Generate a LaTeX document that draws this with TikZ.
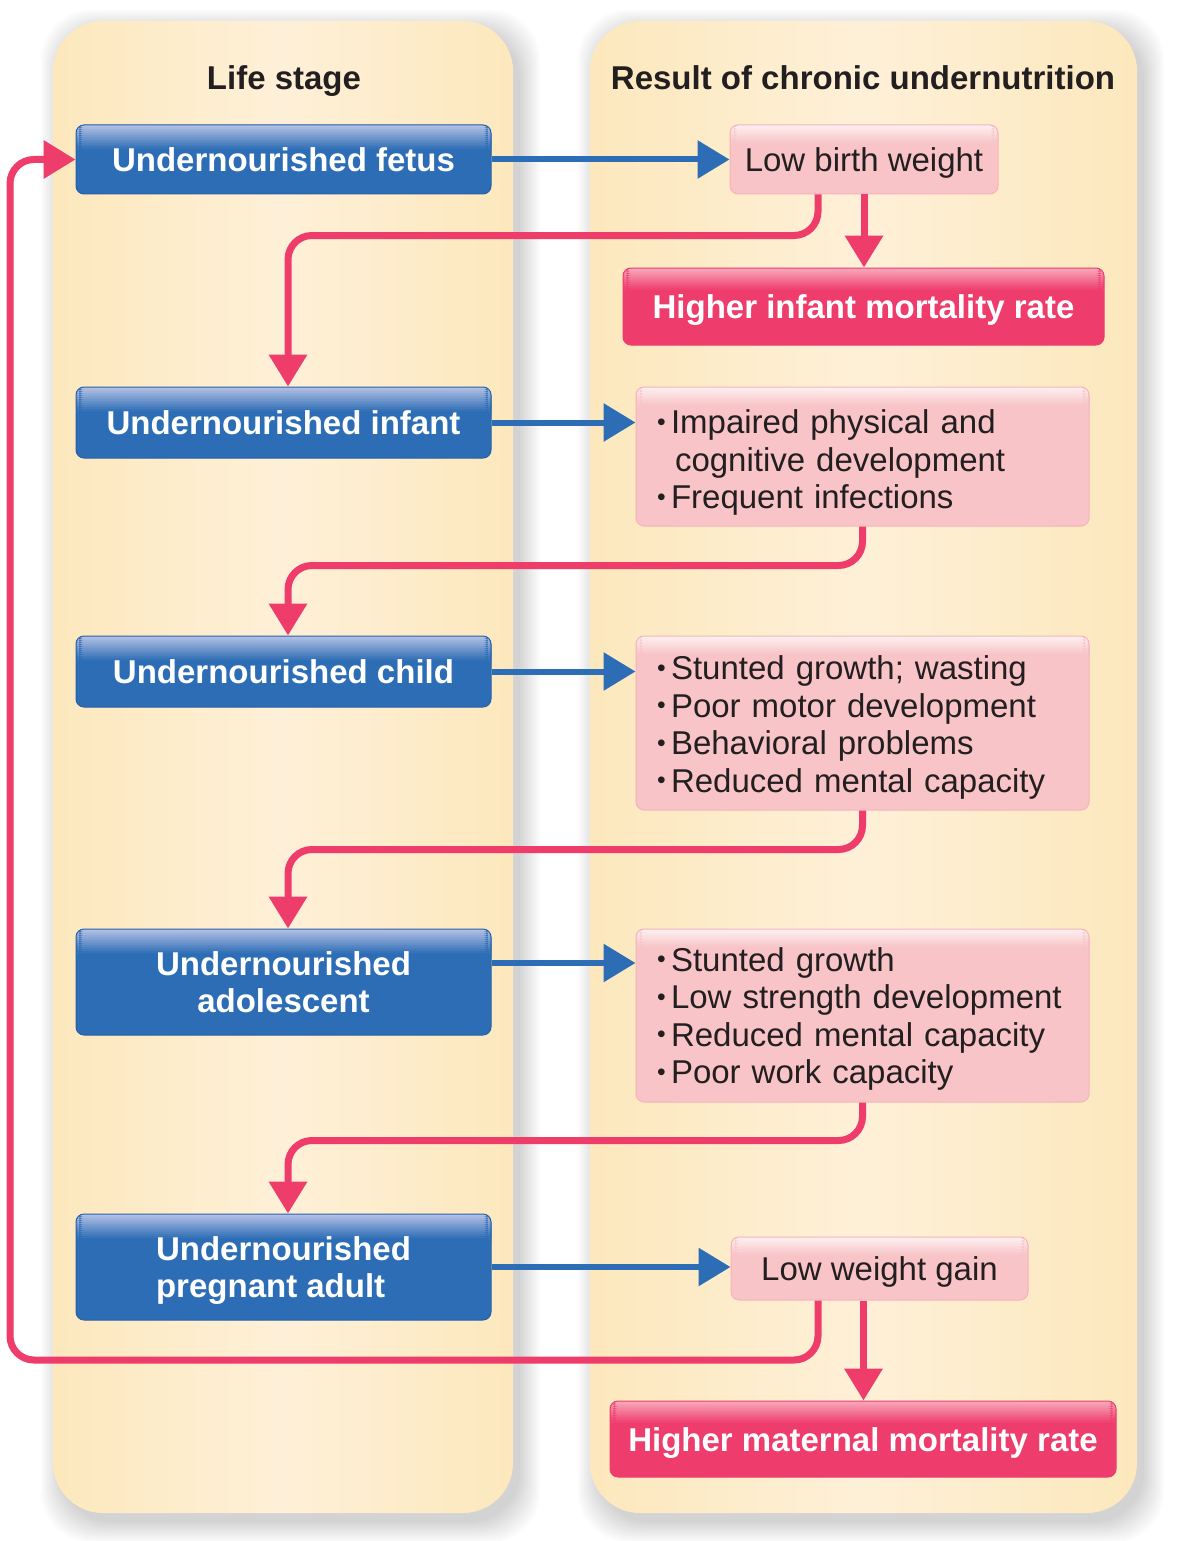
\documentclass[tikz,border=0pt]{standalone}
\usepackage{fontspec}
\usepackage{graphicx}
\setmainfont{Liberation Sans}
\usetikzlibrary{arrows.meta,calc}
\definecolor{panelA}{HTML}{FDE8BD}
\definecolor{panelB}{HTML}{FEF0D8}
\definecolor{bluefill}{HTML}{2C6DB5}
\definecolor{blueedge}{HTML}{2760A8}
\definecolor{bluehi}{HTML}{B3C0E4}
\definecolor{pinkfill}{HTML}{F8C4C7}
\definecolor{pinkedge}{HTML}{F6B3BB}
\definecolor{pinkhi}{HTML}{FDF0F1}
\definecolor{redfill}{HTML}{EE3C6C}
\definecolor{redhi}{HTML}{F8A8BA}
\definecolor{pinkline}{HTML}{EE3D6B}
\definecolor{blueline}{HTML}{2C6DB5}
\definecolor{darktext}{HTML}{231F20}
\newcommand\bul{\makebox[14pt][l]{\raisebox{0.2ex}{\scalebox{0.75}{•}}}}
\begin{document}
\begin{tikzpicture}[x=1pt,y=-1pt,
  panel/.style={rounded corners=50pt, left color=panelA, right color=panelA, middle color=panelB},
  grad/.style n args={3}{path picture={\foreach \k in {0,...,11}{\pgfmathsetmacro\pct{100-\k*8.4}\fill[#1!\pct!#2] ([yshift=-\k*#3]path picture bounding box.north west) rectangle ([yshift=-\k*#3-#3-0.4pt]path picture bounding box.north east);}}},
  bluebox/.style={draw=blueedge, line width=1pt, fill=bluefill, rounded corners=8pt, text=white,
    font=\bfseries\fontsize{33}{37.5}\selectfont, minimum width=415pt, inner sep=0pt, align=center,
    grad={bluehi}{bluefill}{2pt}},
  pinkbox/.style={draw=pinkedge, line width=1pt, fill=pinkfill, rounded corners=8pt, text=darktext,
    font=\fontsize{33}{37.5}\selectfont, inner sep=0pt, grad={pinkhi}{pinkfill}{1.5pt}},
  single/.style={text height=24pt, text depth=0pt},
  listbox/.style={pinkbox, minimum width=453pt, text width=411pt, align=left},
  redbox/.style={draw=redfill, line width=1pt, fill=redfill, rounded corners=8pt, text=white,
    font=\bfseries\fontsize{33}{37.5}\selectfont, inner sep=0pt, grad={redhi}{redfill}{1.8pt}},
  bluearrow/.style={draw=blueline, line width=6pt, -{Triangle[length=32pt,width=37pt]}},
  pinkarrow/.style={draw=pinkline, line width=7pt, rounded corners=24pt, -{Triangle[length=32pt,width=37pt]}},
  titlefont/.style={font=\bfseries\fontsize{33}{37}\selectfont, text=darktext, anchor=base}
]
\useasboundingbox (0,0) rectangle (1176,1541);
\fill[white] (0,0) rectangle (1176,1541);
% shadows
\foreach \i in {0,2,...,20}{
  \fill[black, opacity=0.017, rounded corners=50pt] (53+8-\i,21+9-\i) rectangle (513+7+\i,1513+9+\i);
  \fill[black, opacity=0.017, rounded corners=50pt] (590+8-\i,21+9-\i) rectangle (1137+7+\i,1513+9+\i);
}
% panels
\path[panel] (53,21) rectangle (513,1513);
\path[panel] (590,21) rectangle (1137,1513);

\node[titlefont] (t1) at (284,90) {Life stage};
\node[titlefont] (t2) at (863,90) {Result of chronic undernutrition};

% life stage boxes
\node[bluebox, single, minimum height=69pt] (fetus) at (283.5,159.5) {Undernourished fetus};
\node[bluebox, single, minimum height=71pt] (infant) at (283.5,422.5) {Undernourished infant};
\node[bluebox, single, minimum height=71pt] (child) at (283.5,671.5) {Undernourished child};
\node[bluebox, minimum height=106pt] (adol) at (283.5,982) {Undernourished\\adolescent};
\node[bluebox, minimum height=106pt, align=left, text depth=-4pt] (preg) at (283.5,1267) {Undernourished\\pregnant adult};

% result boxes
\node[pinkbox, single, minimum width=268pt, minimum height=69pt] (lbw) at (864,159.5) {Low birth weight};
\node[redbox, single, minimum width=481pt, minimum height=77pt] (imr) at (863.5,306.5) {Higher infant mortality rate};
\node[listbox, minimum height=139pt, text height=36pt] (res1) at (862.5,456.5) {\bul Impaired physical and\\\hspace*{18pt}cognitive development\\\bul Frequent infections};
\node[listbox, minimum height=174pt, text height=32.5pt] (res2) at (862.5,723) {\bul Stunted growth; wasting\\\bul Poor motor development\\\bul Behavioral problems\\\bul Reduced mental capacity};
\node[listbox, minimum height=173pt, text height=30.5pt] (res3) at (862.5,1015.5) {\bul Stunted growth\\\bul Low strength development\\\bul Reduced mental capacity\\\bul Poor work capacity};
\node[pinkbox, single, minimum width=297pt, minimum height=63pt] (lwg) at (879.5,1268.5) {Low weight gain};
\node[redbox, single, minimum width=506pt, minimum height=76pt] (hmmr) at (863,1439) {Higher maternal mortality rate};

% blue arrows
\draw[bluearrow] (fetus.east) -- (fetus.east -| lbw.west);
\draw[bluearrow] (infant.east) -- (infant.east -| res1.west);
\draw[bluearrow] (child.east) -- (child.east -| res2.west);
\draw[bluearrow] ([yshift=19pt]adol.east) -- ([yshift=19pt]adol.east -| res3.west);
\draw[bluearrow] (preg.east) -- (preg.east -| lwg.west);

% pink connectors
\draw[pinkarrow] ([xshift=-46pt]lbw.south) -- ++(0,41) -| ([xshift=4.5pt]infant.north);
\draw[pinkarrow] (lbw.south) -- (lbw.south |- imr.north);
\draw[pinkarrow] (res1.south) -- ++(0,39) -| ([xshift=4.5pt]child.north);
\draw[pinkarrow] (res2.south) -- ++(0,39) -| ([xshift=4.5pt]adol.north);
\draw[pinkarrow] (res3.south) -- ++(0,38) -| ([xshift=4.5pt]preg.north);
\coordinate (loopA) at (10,1360);
\draw[pinkarrow] ([xshift=-61.5pt]lwg.south) |- (loopA) |- (fetus.west);
\draw[pinkarrow] ([xshift=-16pt]lwg.south) -- ([xshift=-16pt]lwg.south |- hmmr.north);
\end{tikzpicture}
\end{document}
